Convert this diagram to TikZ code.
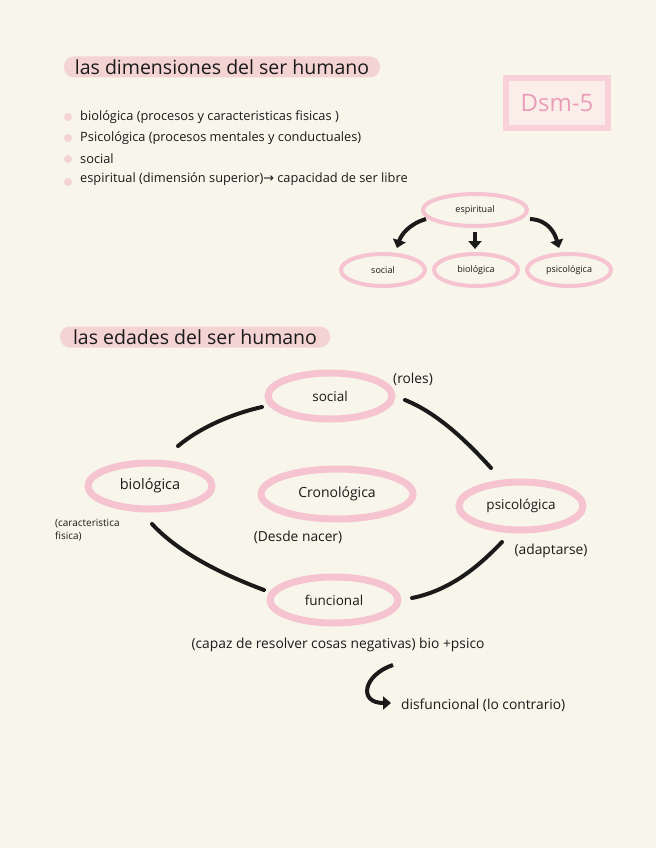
\documentclass[tikz,border=0pt]{standalone}
\usepackage{fontspec}
\setmainfont{Open Sans}
\newfontfamily\symfont{DejaVu Sans}
\usetikzlibrary{shapes.geometric,arrows.meta,calc}
\definecolor{bg}{HTML}{F8F5EA}
\definecolor{pinkring}{HTML}{F6C3D0}
\definecolor{hlpink}{HTML}{F4D3D3}
\definecolor{dsmframe}{HTML}{F8D2D8}
\definecolor{dsmfill}{HTML}{FBEEE8}
\definecolor{dsmtext}{HTML}{EA9DB8}
\definecolor{ink}{HTML}{1A1A1A}
\begin{document}
\begin{tikzpicture}[x=1pt,y=-1pt,
  hl/.style={fill=hlpink,rounded corners=10pt,inner sep=0pt,text=ink},
  titlefont/.style={font=\fontsize{19.5}{22}\selectfont},
  bdot/.style={circle,fill=hlpink,minimum size=8pt,inner sep=0pt},
  bitem/.style={anchor=west,inner sep=0pt,text=ink,font=\fontsize{12.8}{15}\selectfont},
  ring/.style={ellipse,draw=pinkring,line width=7pt,inner sep=0pt,text=ink,font=\fontsize{13.5}{15}\selectfont},
  sring/.style={ellipse,draw=pinkring,line width=4pt,inner sep=0pt,text=ink,font=\fontsize{9}{11}\selectfont},
  arc/.style={draw=ink,line width=4pt,line cap=round},
  tarr/.style={draw=ink,line width=4pt,-{Triangle[width=13pt,length=8pt]}},
  note/.style={inner sep=0pt,text=ink,font=\fontsize{13.8}{15}\selectfont}
]
\fill[bg] (0,0) rectangle (656,848);
\useasboundingbox (0,0) rectangle (656,848);

% Title 1
\node[hl,titlefont,minimum width=316pt,minimum height=21pt] (t1) at (222,67) {las dimensiones del ser humano};

% bullet list
\node[bdot] (d1) at (68,117) {};
\node[bdot] (d2) at (68,138) {};
\node[bdot] (d3) at (68,159) {};
\node[bdot] (d4) at (68,182) {};
\node[bitem] (b1) at (80,117) {biológica (procesos y caracteristicas fisicas )};
\node[bitem] (b2) at (80,138) {Psicológica (procesos mentales y conductuales)};
\node[bitem] (b3) at (80,159) {social};
\node[bitem] (b4) at (80,179) {espiritual (dimensión superior){\symfont →} capacidad de ser libre};

% Dsm-5 box
\node[draw=dsmframe,fill=dsmfill,line width=6pt,minimum width=102pt,minimum height=50pt,inner sep=0pt,text=dsmtext,font=\fontsize{24}{26}\selectfont] (dsm) at (557,103) {Dsm-5};

% small tree
\node[sring,minimum width=104pt,minimum height=32pt] (esp) at (475,210) {espiritual};
\node[sring,minimum width=84pt,minimum height=32pt] (tsoc) at (383,270) {social};
\node[sring,minimum width=84pt,minimum height=32pt] (tbio) at (476,270) {biológica};
\node[sring,minimum width=84pt,minimum height=32pt] (tpsi) at (569,270) {psicológica};
\draw[tarr] ($(esp)+(-49,9)$) .. controls ($(esp)+(-66,14)$) and ($(tsoc)+(18,-35)$) .. ($(tsoc)+(14,-22)$);
\draw[tarr] ($(esp)+(0,22)$) -- ($(tbio)+(-1,-21)$);
\draw[tarr] ($(esp)+(55,9)$) .. controls ($(esp)+(74,10)$) and ($(tpsi)+(-14,-36)$) .. ($(tpsi)+(-10,-22)$);

% Title 2
\node[hl,titlefont,minimum width=270pt,minimum height=21pt] (t2) at (195,337) {las edades del ser humano};

% big ring diagram
\node[ring,minimum width=124pt,minimum height=46pt] (soc) at (330,396) {social};
\node[ring,minimum width=124pt,minimum height=46pt,font=\fontsize{14.5}{16}\selectfont] (bio) at (150,486) {biológica};
\node[ring,minimum width=152pt,minimum height=50pt,font=\fontsize{14}{16}\selectfont] (cro) at (337,494) {Cronológica};
\node[ring,minimum width=124pt,minimum height=48pt] (psi) at (521,506) {psicológica};
\node[ring,minimum width=128pt,minimum height=46pt] (fun) at (334,600) {funcional};

\draw[arc] ($(bio)+(28,-40)$) .. controls ($(bio)+(52,-60)$) and ($(soc)+(-95,17)$) .. ($(soc)+(-68,11)$);
\draw[arc] ($(soc)+(75,4)$) .. controls ($(soc)+(110,18)$) and ($(psi)+(-50,-60)$) .. ($(psi)+(-30,-38)$);
\draw[arc] ($(bio)+(2,38)$) .. controls ($(bio)+(30,68)$) and ($(fun)+(-110,-25)$) .. ($(fun)+(-70,-10)$);
\draw[arc] ($(fun)+(78,-2)$) .. controls ($(fun)+(118,-10)$) and ($(psi)+(-40,58)$) .. ($(psi)+(-19,36)$);

% labels
\node[note] (roles) at (413,379) {(roles)};
\node[inner sep=0pt,text=ink,anchor=west,align=left,font=\fontsize{10}{13}\selectfont] (carac) at (55,530) {(caracteristica\\fisica)};
\node[note] (desde) at (298,537) {(Desde nacer)};
\node[note] (adap) at (551,551) {(adaptarse)};
\node[note] (capaz) at (338,645) {(capaz de resolver cosas negativas) bio +psico};
\node[note,anchor=west] (dis) at (401,705) {disfuncional (lo contrario)};
\draw[tarr] ($(capaz)+(55,20)$) .. controls ($(capaz)+(25,30)$) and ($(capaz)+(20,58)$) .. ($(dis.west)+(-10,-2)$);
\end{tikzpicture}
\end{document}
